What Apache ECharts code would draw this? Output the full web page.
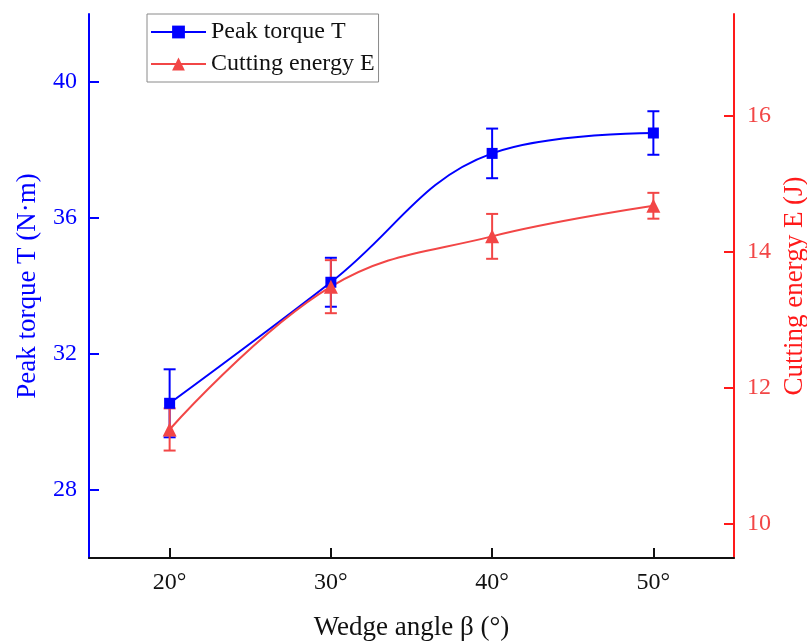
<!DOCTYPE html>
<html>
<head>
<meta charset="utf-8">
<script src="https://cdn.jsdelivr.net/npm/echarts@6/dist/echarts.min.js"></script>
<style>
  html, body { margin: 0; padding: 0; background: #fff; }
  #chart_box { width: 807px; height: 644px; }
</style>
</head>
<body>
<div id="chart_box"></div>
<script>
// wedge angle (deg)
const angles = [20, 30, 40, 50];
// peak torque T (N·m) and its error
const torque = [30.55, 34.11, 37.90, 38.50];
const torqueErr = [1.0, 0.72, 0.73, 0.64];
// cutting energy E (J) and its error
const energy = [11.39, 13.49, 14.23, 14.68];
const energyErr = [0.31, 0.39, 0.33, 0.19];
// tick labels
const xTicks = [20, 30, 40, 50];
const leftTicks = [28, 32, 36, 40];
const rightTicks = [10, 12, 14, 16];

const FONT = '"Liberation Serif", "DejaVu Serif", serif';
const BLUE = '#0000ff';
const RED = '#f24646';
const RED_AXIS = '#ff1a1a';

// error bar drawn with the axes' own coords
function errorBar(color, width) {
  return function (params, api) {
    const x = api.value(0), y = api.value(1), e = api.value(2);
    const top = api.coord([x, y + e]);
    const bot = api.coord([x, y - e]);
    const half = 6;
    const style = { stroke: color, lineWidth: width };
    return {
      type: 'group',
      children: [
        { type: 'line', shape: { x1: top[0], y1: top[1], x2: bot[0], y2: bot[1] }, style: style },
        { type: 'line', shape: { x1: top[0] - half, y1: top[1], x2: top[0] + half, y2: top[1] }, style: style },
        { type: 'line', shape: { x1: bot[0] - half, y1: bot[1], x2: bot[0] + half, y2: bot[1] }, style: style }
      ]
    };
  };
}

const chart = echarts.init(document.getElementById('chart_box'));
const option = {
  animation: false,
  backgroundColor: '#fff',
  textStyle: { fontFamily: FONT },
  grid: { left: 89, right: 73, top: 14, bottom: 86, containLabel: false, outerBoundsMode: 'none' },
  legend: {
    orient: 'vertical',
    left: 147,
    top: 14,
    padding: [6, 4, 6, 3],
    itemWidth: 55,
    itemHeight: 16,
    itemGap: 8,
    borderColor: '#8a8a8a',
    borderWidth: 1,
    lineStyle: { width: 2 },
    textStyle: { fontFamily: FONT, fontSize: 24, color: '#111' },
    data: ['Peak torque T', 'Cutting energy E']
  },
  xAxis: {
    type: 'value',
    min: 15,
    max: 55,
    name: 'Wedge angle β (°)',
    nameLocation: 'middle',
    nameGap: 56,
    nameTextStyle: { fontFamily: FONT, fontSize: 27, color: '#111' },
    axisLine: { show: true, lineStyle: { color: '#111', width: 2 } },
    axisTick: { show: true, inside: true, length: 10, lineStyle: { color: '#111', width: 2 }, customValues: xTicks },
    axisLabel: { fontFamily: FONT, fontSize: 24, color: '#111', margin: 13, customValues: xTicks, formatter: '{value}°' },
    splitLine: { show: false }
  },
  yAxis: [
    {
      type: 'value',
      position: 'left',
      min: 26,
      max: 42,
      name: 'Peak torque T (N·m)',
      nameLocation: 'middle',
      nameGap: 48,
      nameTextStyle: { fontFamily: FONT, fontSize: 27, color: BLUE },
      axisLine: { show: true, lineStyle: { color: BLUE, width: 2 } },
      axisTick: { show: true, inside: true, length: 10, lineStyle: { color: BLUE, width: 2 }, customValues: leftTicks },
      axisLabel: { fontFamily: FONT, fontSize: 24, color: BLUE, margin: 12, customValues: leftTicks },
      splitLine: { show: false }
    },
    {
      type: 'value',
      position: 'right',
      min: 9.5,
      max: 17.5,
      name: 'Cutting energy E (J)',
      nameLocation: 'middle',
      nameGap: 46,
      nameTextStyle: { fontFamily: FONT, fontSize: 27, color: RED_AXIS },
      axisLine: { show: true, lineStyle: { color: RED_AXIS, width: 2 } },
      axisTick: { show: true, inside: true, length: 10, lineStyle: { color: RED_AXIS, width: 2 }, customValues: rightTicks },
      axisLabel: { fontFamily: FONT, fontSize: 24, color: RED, margin: 13, customValues: rightTicks },
      splitLine: { show: false }
    }
  ],
  series: [
    {
      name: 'Peak torque T err',
      type: 'custom',
      yAxisIndex: 0,
      renderItem: errorBar(BLUE, 2),
      data: angles.map((a, i) => [a, torque[i], torqueErr[i]]),
      z: 2
    },
    {
      name: 'Cutting energy E err',
      type: 'custom',
      yAxisIndex: 1,
      renderItem: errorBar(RED, 2),
      data: angles.map((a, i) => [a, energy[i], energyErr[i]]),
      z: 2
    },
    {
      name: 'Peak torque T',
      type: 'line',
      yAxisIndex: 0,
      smooth: 0.4,
      symbol: 'rect',
      symbolSize: 11,
      color: BLUE,
      lineStyle: { color: BLUE, width: 2 },
      itemStyle: { color: BLUE },
      data: angles.map((a, i) => [a, torque[i]]),
      z: 3
    },
    {
      name: 'Cutting energy E',
      type: 'line',
      yAxisIndex: 1,
      smooth: 0.4,
      symbol: 'triangle',
      symbolSize: 14,
      color: RED,
      lineStyle: { color: RED, width: 2 },
      itemStyle: { color: RED },
      data: angles.map((a, i) => [a, energy[i]]),
      z: 3
    }
  ]
};
chart.setOption(option);
</script>
</body>
</html>
